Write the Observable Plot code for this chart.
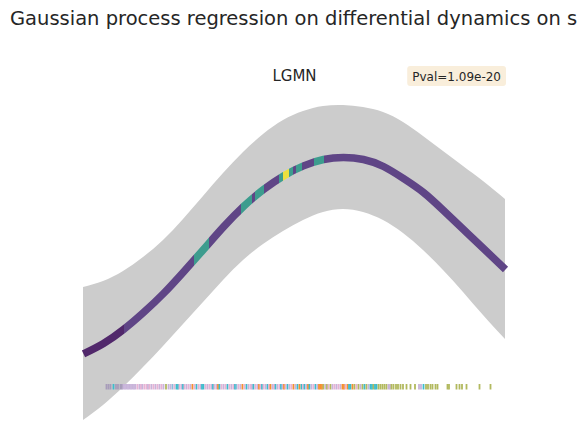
<!DOCTYPE html>
<html><head><meta charset="utf-8">
<script src="https://cdn.jsdelivr.net/npm/d3@7"></script>
<script src="https://cdn.jsdelivr.net/npm/@observablehq/plot@0.6"></script>
<style>
body{margin:0;background:#fff;overflow:hidden;}
#wrap{width:586px;height:446px;overflow:hidden;position:relative;background:#fff;}
#title{height:40px;box-sizing:border-box;padding:9px 0 0 10px;font:19.5px/19px "DejaVu Sans";color:#262626;white-space:nowrap;overflow:hidden;}
</style></head><body>
<div id="wrap"><div id="title">Gaussian process regression on differential dynamics on s</div><div id="chart"></div></div>
<script>
const titleText = "Gaussian process regression on differential dynamics on s";
const geneName = "LGMN";
const pvalLabel = "Pval=1.09e-20";

// GP mean and confidence band along pseudotime (arbitrary units)
const pseudotime = [0,10,20,30,40,50,60,70,80,90,100,110,120,130,140,150,160,170,180,190,200,211];
const meanExpr   = [4.63,5.15,5.85,6.70,7.65,8.73,9.85,10.98,12.00,12.85,13.53,14.03,14.35,14.45,14.35,14.00,13.40,12.70,11.80,10.85,9.90,8.85];
const bandUpper  = [7.95,8.25,8.75,9.45,10.30,11.35,12.50,13.65,14.70,15.60,16.30,16.75,17.00,17.05,16.95,16.70,16.20,15.50,14.75,14.00,13.25,12.35];
const bandLower  = [1.30,2.05,2.95,3.95,5.00,6.10,7.20,8.30,9.30,10.10,10.75,11.30,11.70,11.85,11.70,11.30,10.65,9.80,8.80,7.70,6.55,5.35];

// coloured stretches of the mean line (cell colour value): [from, to, colour]
const runFrom  = [0, 55, 78.5, 85.5, 97.5, 99.5, 102.5, 106, 115];
const runTo    = [20, 62.5, 84, 90, 99.5, 102.5, 104.5, 109.5, 120];
const runColor = ["#51286b","#3d9c8e","#3d9c8e","#3d9c8e","#3d9c8e","#ece03e","#3d9c8e","#3d9c8e","#3d9c8e"];
const lineMain = "#5f4586";

// rug of cells by type
const rugTime = [11.5,12.5,13.5,15,16.25,17.25,18.5,19.25,
 20,20.75,21.5,22.25,23,23.75,24.5,25.25,26,
 27,28,28.75,29.5,30.5,31.5,32.25,33,34,35,36,37,38,39,40,41.25,42.5,43.5,44.5,45.5,46.5,47.25,48,49,49.75,50.5,51.5,52.5,53.5,54.5,55.5,56.5,57.5,58.5,59.25,60,61,62,63,64,64.75,65.5,66.5,67.25,68,69,70,71,72,73,74,75,75.75,76.5,77.5,78.5,79.5,80.5,81.5,82.5,83.5,84.25,85,86,87,87.75,88.5,89.25,90,91,92,92.75,93.5,94.5,95.25,96,97,98,98.75,99.5,100.25,101,102,103,104,105,106,107,108,109,109.75,110.5,111.5,112.25,113,114,115,116,117,117.75,118.5,119.25,120,121,121.75,122.5,123.5,124.5,125.5,126.5,127.5,128.5,129.5,130.25,131,132,132.75,133.5,134.5,135.5,136.5,137.5,138.5,139.5,140.5,141.5,142.5,143.5,144.25,145,145.75,146.5,147.5,148.5,149.5,150.5,151.5,152.5,153.25,154,155,156.25,157.25,158.5,159.75,161.5,163.5,165.75,167.75,168.75,170,171.25,172.25,173.5,174.5,176,177,182,182.75,186.5,188,189.25,191.5,198,203.5];
const rugType = ["P","P","P","C","P","P","P","P",
 "L","L","L","L","L","L","L","L","L",
 "K","L","K","L","K","K","L","K","L","K","L","K","L","K","L","V","L","L","B","K","C","C","K","L","C","K","L","K","L","O","K","C","K","L","C","C","K","L","K","L","C","K","L","O","C","K","L","K","C","K","L","K","C","B","K","L","O","K","C","L","K","L","C","K","L","O","K","C","K","L","C","K","O","L","K","C","L","K","C","L","O","K","C","L","K","O","L","C","O","C","K","C","L","O","C","L","K","C","L","O","O","O","V","L","V","K","V","L","K","L","K","L","O","O","K","O","C","C","O","V","K","V","L","V","C","V","L","C","C","V","C","C","V","V","V","V","V","L","L","V","V","V","V","V","V","V","V","V","L","L","C","V","V","V","V","V","V","V","V","V","V","V","V","V","V"];
const typeNames  = ["P","L","K","C","O","V","B"];
const typeColors = ["#a79cba","#c8b4da","#e8b3d4","#3dbccc","#f5902f","#b2b95e","#8cbcda"];

const curveData = pseudotime.map((t, i) => ({t, m: meanExpr[i], lo: bandLower[i], hi: bandUpper[i]}));
const rugData = rugTime.map((t, i) => ({t, type: rugType[i]}));

const chart = Plot.plot({
  width: 586, height: 406,
  marginTop: 0, marginBottom: 0, marginLeft: 83, marginRight: 81,
  style: {fontFamily: "DejaVu Sans", background: "#fff"},
  x: {domain: [0, 211], axis: null},
  y: {domain: [0, 20.3], axis: null},
  color: {type: "ordinal", domain: typeNames, range: typeColors},
  marks: [
    Plot.areaY(curveData, {x: "t", y1: "lo", y2: "hi", fill: "#cccccc", curve: "natural"}),
    Plot.line(curveData, {x: "t", y: "m", stroke: lineMain, strokeWidth: 7.5, strokeLinecap: "butt", strokeLinejoin: "round", curve: "natural"}),
    Plot.ruleX(rugData, {x: "t", y1: 2.825, y2: 3.1, stroke: "type", strokeWidth: 1.8}),
    Plot.text([geneName], {text: d => d, frameAnchor: "top", lineAnchor: "top", dy: 30, fontSize: 15, fill: "#262626"}),
    Plot.text([pvalLabel], {text: d => d, frameAnchor: "top-right", textAnchor: "end", lineAnchor: "top", dx: -4.5, dy: 31.5, fontSize: 12, fill: "#262626"})
  ]
});
document.getElementById("chart").appendChild(chart);

const NS = "http://www.w3.org/2000/svg";
// colour the mean line by stretches via a hard-stop gradient along x
{
  const xs = chart.scale("x");
  const W = 586;
  const defs = document.createElementNS(NS, "defs");
  const grad = document.createElementNS(NS, "linearGradient");
  grad.setAttribute("id", "lineGrad");
  grad.setAttribute("gradientUnits", "userSpaceOnUse");
  grad.setAttribute("x1", 0); grad.setAttribute("y1", 0);
  grad.setAttribute("x2", W); grad.setAttribute("y2", 0);
  const segs = [];
  let pos = xs.domain[0];
  runFrom.forEach((f, i) => {
    if (f > pos) segs.push([pos, f, lineMain]);
    segs.push([f, runTo[i], runColor[i]]);
    pos = runTo[i];
  });
  segs.push([pos, xs.domain[1], lineMain]);
  segs.forEach(([a, b, c], k) => {
    const oa = k === 0 ? 0 : xs.apply(a) / W;
    const ob = k === segs.length - 1 ? 1 : xs.apply(b) / W;
    for (const o of [oa, ob]) {
      const s = document.createElementNS(NS, "stop");
      s.setAttribute("offset", o);
      s.setAttribute("stop-color", c);
      grad.appendChild(s);
    }
  });
  defs.appendChild(grad);
  chart.insertBefore(defs, chart.firstChild);
  const g = chart.querySelector('g[aria-label="line"]');
  if (g) {
    g.setAttribute("stroke", "url(#lineGrad)");
    g.querySelectorAll("path").forEach(p => p.setAttribute("stroke", "url(#lineGrad)"));
  }
}

// rounded background box behind the p-value label
for (const t of chart.querySelectorAll("text")) {
  if (t.textContent === pvalLabel) {
    const b = t.getBBox();
    const r = document.createElementNS(NS, "rect");
    r.setAttribute("x", b.x - 5); r.setAttribute("y", b.y - 3.5);
    r.setAttribute("width", b.width + 10); r.setAttribute("height", b.height + 6);
    r.setAttribute("rx", 3); r.setAttribute("fill", "#f9eedb");
    const tr = t.getAttribute("transform");
    if (tr) r.setAttribute("transform", tr);
    t.parentNode.insertBefore(r, t);
  }
}
</script>
</body></html>
